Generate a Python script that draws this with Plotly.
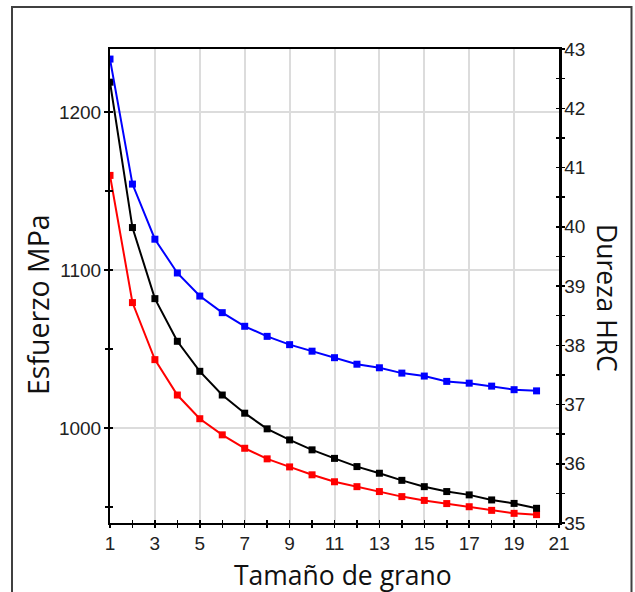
import plotly.graph_objects as go

# Data
grano = list(range(1, 21))
dureza_hrc = [42.83, 40.72, 39.79, 39.22, 38.83, 38.55, 38.32, 38.15, 38.01, 37.90,
              37.79, 37.68, 37.62, 37.53, 37.48, 37.39, 37.36, 37.31, 37.25, 37.23]
esfuerzo_negro = [1219, 1127, 1082, 1055, 1036, 1021, 1009.5, 999.6, 992.6, 986.3,
                  980.9, 975.7, 971.5, 967, 963, 959.9, 957.8, 954.6, 952.4, 949.3]
esfuerzo_rojo = [1160, 1079.5, 1043.4, 1021, 1006, 995.8, 987.3, 980.6, 975.5, 970.5,
                 966.1, 963, 959.9, 956.7, 954.3, 952.3, 950.3, 948, 946.1, 945.3]

x_major = [1, 3, 5, 7, 9, 11, 13, 15, 17, 19, 21]
x_minor = [2, 4, 6, 8, 10, 12, 14, 16, 18, 20]
y_major = [1000, 1100, 1200]
y_minor = [950, 1050, 1150]
y2_major = [35, 36, 37, 38, 39, 40, 41, 42, 43]
y2_minor = [35.5, 36.5, 37.5, 38.5, 39.5, 40.5, 41.5, 42.5]

W, H = 635, 592
PL, PR, PT, PB = 110, 559, 49, 523   # plot area in page pixels
L, R, T, B = PL, W - PR, PT, H - PB
pw, ph = PR - PL, PB - PT

def px(xp):
    return (xp - PL) / pw

def py(yp):
    return (PB - yp) / ph

tick_font = dict(family="Liberation Sans, Arial, sans-serif", size=19, color="#222")
title_family = "Open Sans, Noto Sans, sans-serif"

fig = go.Figure()

fig.add_trace(go.Scatter(x=grano, y=esfuerzo_rojo, mode="lines+markers", name="Esfuerzo (rojo)",
                         line=dict(color="#ff0000", width=2),
                         marker=dict(symbol="square", size=7, color="#ff0000"),
                         xaxis="x", yaxis="y"))
fig.add_trace(go.Scatter(x=grano, y=esfuerzo_negro, mode="lines+markers", name="Esfuerzo (negro)",
                         line=dict(color="#000000", width=2),
                         marker=dict(symbol="square", size=7, color="#000000"),
                         xaxis="x", yaxis="y"))
fig.add_trace(go.Scatter(x=grano, y=dureza_hrc, mode="lines+markers", name="Dureza HRC",
                         line=dict(color="#0000ff", width=2),
                         marker=dict(symbol="square", size=7, color="#0000ff"),
                         xaxis="x", yaxis="y2"))

# invisible helper traces so the overlay (inside-tick) axes are drawn
fig.add_trace(go.Scatter(x=[None], y=[None], xaxis="x2", yaxis="y3", showlegend=False, hoverinfo="skip"))
fig.add_trace(go.Scatter(x=[None], y=[None], xaxis="x2", yaxis="y4", showlegend=False, hoverinfo="skip"))

fig.update_layout(
    width=W, height=H,
    margin=dict(l=L, r=R, t=T, b=B, pad=0),
    paper_bgcolor="white", plot_bgcolor="white",
    showlegend=False,
    xaxis=dict(range=[1, 21], tickmode="array", tickvals=x_major, ticktext=[str(v) for v in x_major],
               ticks="outside", ticklen=3, tickwidth=1.5, tickcolor="black",
               minor=dict(tickmode="array", tickvals=x_minor, ticks="outside", ticklen=3,
                          tickwidth=1.5, tickcolor="black", showgrid=False),
               showgrid=True, gridcolor="#dcdcdc", gridwidth=2,
               showline=True, linecolor="black", linewidth=2, mirror=True,
               zeroline=False, tickfont=tick_font, ticklabelstandoff=-1),
    xaxis2=dict(overlaying="x", matches="x", anchor="y", range=[1, 21], tickmode="array",
                tickvals=x_major, showticklabels=False, ticks="inside", ticklen=3, tickwidth=1.5,
                tickcolor="black",
                minor=dict(tickmode="array", tickvals=x_minor, ticks="inside", ticklen=3,
                           tickwidth=1.5, tickcolor="black", showgrid=False),
                showgrid=False, showline=False, zeroline=False),
    yaxis=dict(range=[940, 1240], tickmode="array", tickvals=y_major, ticktext=[str(v) for v in y_major],
               ticks="outside", ticklen=4, tickwidth=1.5, tickcolor="black",
               minor=dict(tickmode="array", tickvals=y_minor, ticks="outside", ticklen=3,
                          tickwidth=1.5, tickcolor="black", showgrid=False),
               showgrid=True, gridcolor="#dcdcdc", gridwidth=2,
               showline=True, linecolor="black", linewidth=2,
               zeroline=False, tickfont=tick_font, ticklabelstandoff=-1),
    yaxis2=dict(overlaying="y", side="right", anchor="x", range=[35, 43], tickmode="array",
                tickvals=y2_major, ticktext=[str(v) for v in y2_major],
                ticks="outside", ticklen=3, tickwidth=1.5, tickcolor="black",
                minor=dict(tickmode="array", tickvals=y2_minor, ticks="outside", ticklen=3,
                           tickwidth=1.5, tickcolor="black", showgrid=False),
                showgrid=False, showline=True, linecolor="black", linewidth=2.5,
                zeroline=False, tickfont=tick_font, ticklabelstandoff=-4),
    yaxis3=dict(overlaying="y", matches="y", anchor="x2", side="left", range=[940, 1240],
                tickmode="array", tickvals=y_major, showticklabels=False, ticks="inside",
                ticklen=3, tickwidth=1.5, tickcolor="black",
                minor=dict(tickmode="array", tickvals=y_minor, ticks="inside", ticklen=3,
                           tickwidth=1.5, tickcolor="black", showgrid=False),
                showgrid=False, showline=False, zeroline=False),
    yaxis4=dict(overlaying="y", matches="y2", anchor="x2", side="right", range=[35, 43],
                tickmode="array", tickvals=y2_major, showticklabels=False, ticks="inside",
                ticklen=3, tickwidth=1.5, tickcolor="black",
                minor=dict(tickmode="array", tickvals=y2_minor, ticks="inside", ticklen=3,
                           tickwidth=1.5, tickcolor="black", showgrid=False),
                showgrid=False, showline=False, zeroline=False),
)

# axis titles
fig.add_annotation(text="Tamaño de grano", xref="paper", yref="paper",
                   x=px(342.5), y=py(575), xanchor="center", yanchor="middle",
                   showarrow=False, font=dict(family=title_family, size=26.5, color="#111"))
fig.add_annotation(text="Esfuerzo MPa", xref="paper", yref="paper",
                   x=px(38), y=py(305), xanchor="center", yanchor="middle",
                   textangle=-90, showarrow=False, font=dict(family=title_family, size=28.5, color="#111"))
fig.add_annotation(text="Dureza HRC", xref="paper", yref="paper",
                   x=px(607), y=py(298), xanchor="center", yanchor="middle",
                   textangle=90, showarrow=False, font=dict(family=title_family, size=26.5, color="#111"))

# outer frame
fig.add_shape(type="rect", xref="paper", yref="paper",
              x0=px(12), x1=px(631.5), y0=py(640), y1=py(7),
              line=dict(color="#404040", width=2), fillcolor="rgba(0,0,0,0)", layer="below")

fig.write_html("out.html", config={"displayModeBar": False, "staticPlot": True},
               post_script="document.body.style.margin='0';document.body.style.overflow='hidden';")
